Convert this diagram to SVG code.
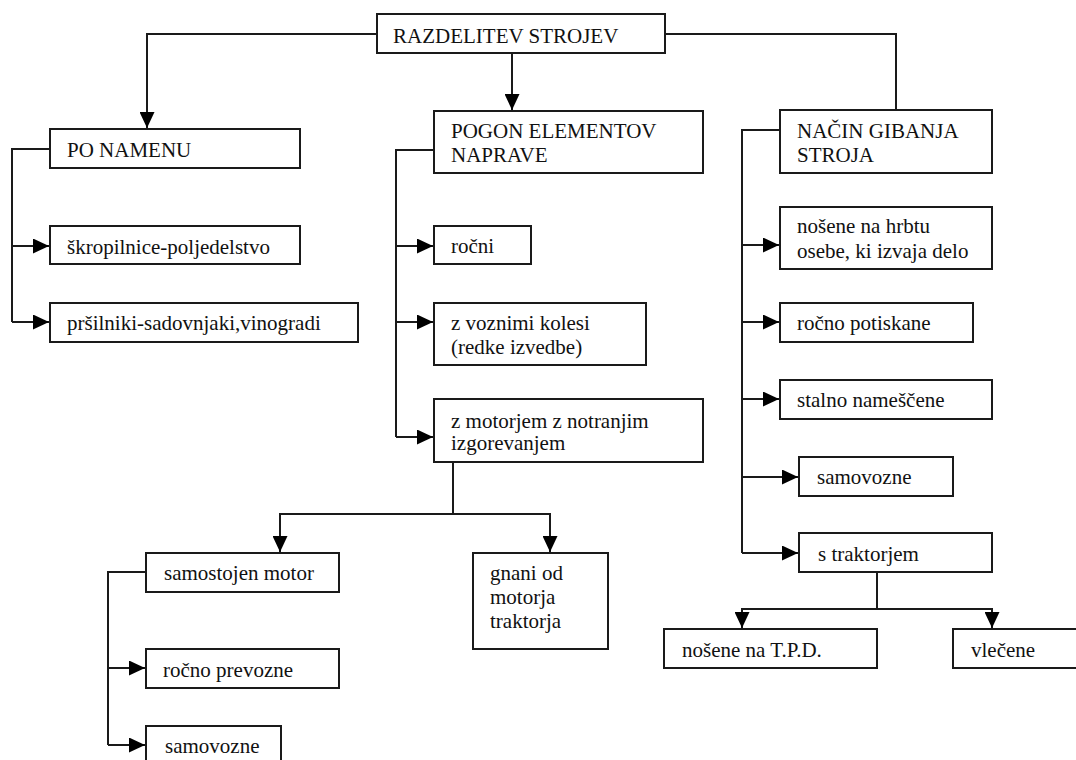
<svg xmlns="http://www.w3.org/2000/svg" width="1076" height="760" viewBox="0 0 1076 760">
<style>
.box{fill:#fff;stroke:#1a1a1a;stroke-width:2}
.t{font-family:"Liberation Serif","Times New Roman",serif;font-size:21px;fill:#111}
.ln{fill:none;stroke:#1a1a1a;stroke-width:2}
</style>
<defs>
<marker id="ah" markerUnits="userSpaceOnUse" markerWidth="17" markerHeight="15" refX="16" refY="7.5" orient="auto">
<path d="M0,0 L16,7.5 L0,15 z" fill="#000"/>
</marker>
</defs>
<rect width="1076" height="760" fill="#fff"/>
<g id="connectors">
<path class="ln" d="M377,34 H147 V128" marker-end="url(#ah)"/>
<path class="ln" d="M512,53 V110" marker-end="url(#ah)"/>
<path class="ln" d="M665,34 H896 V110"/>
<path class="ln" d="M50,149 H12 V322"/>
<path class="ln" d="M12,246 H49" marker-end="url(#ah)"/>
<path class="ln" d="M12,322 H49" marker-end="url(#ah)"/>
<path class="ln" d="M434,150 H396 V437"/>
<path class="ln" d="M396,246 H433" marker-end="url(#ah)"/>
<path class="ln" d="M396,322 H433" marker-end="url(#ah)"/>
<path class="ln" d="M396,437 H433" marker-end="url(#ah)"/>
<path class="ln" d="M453,462 V514"/>
<path class="ln" d="M280,552 V514 H550 V552" />
<path class="ln" d="M280,514 V552" marker-end="url(#ah)"/>
<path class="ln" d="M550,514 V552" marker-end="url(#ah)"/>
<path class="ln" d="M146,572 H108 V745"/>
<path class="ln" d="M108,668 H145" marker-end="url(#ah)"/>
<path class="ln" d="M108,745 H145" marker-end="url(#ah)"/>
<path class="ln" d="M780,130 H742 V553"/>
<path class="ln" d="M742,245 H779" marker-end="url(#ah)"/>
<path class="ln" d="M742,322 H779" marker-end="url(#ah)"/>
<path class="ln" d="M742,399 H779" marker-end="url(#ah)"/>
<path class="ln" d="M742,477 H798" marker-end="url(#ah)"/>
<path class="ln" d="M742,553 H798" marker-end="url(#ah)"/>
<path class="ln" d="M877,572 V609"/>
<path class="ln" d="M742,628 V609 H992 V628"/>
<path class="ln" d="M742,609 V628" marker-end="url(#ah)"/>
<path class="ln" d="M992,609 V628" marker-end="url(#ah)"/>
</g>
<g id="n-root"><rect class="box" x="377" y="14" width="288" height="39"/><text class="t" x="393" y="43">RAZDELITEV STROJEV</text></g>
<g id="n-ponamenu"><rect class="box" x="50" y="129" width="250" height="39"/><text class="t" x="67" y="157">PO NAMENU</text></g>
<g id="n-skropilnice"><rect class="box" x="50" y="226" width="250" height="38"/><text class="t" x="67" y="254">škropilnice-poljedelstvo</text></g>
<g id="n-prsilniki"><rect class="box" x="50" y="303" width="308" height="39"/><text class="t" x="67" y="330">pršilniki-sadovnjaki,vinogradi</text></g>
<g id="n-pogon"><rect class="box" x="434" y="111" width="269" height="62"/><text class="t" x="451" y="138">POGON ELEMENTOV</text><text class="t" x="451" y="162">NAPRAVE</text></g>
<g id="n-rocni"><rect class="box" x="434" y="226" width="97" height="38"/><text class="t" x="451" y="253">ročni</text></g>
<g id="n-voznimi"><rect class="box" x="434" y="303" width="212" height="62"/><text class="t" x="451" y="330">z voznimi kolesi</text><text class="t" x="451" y="354">(redke izvedbe)</text></g>
<g id="n-motorjem"><rect class="box" x="434" y="399" width="269" height="63"/><text class="t" x="451" y="428">z motorjem z notranjim</text><text class="t" x="451" y="450">izgorevanjem</text></g>
<g id="n-samostojen"><rect class="box" x="146" y="553" width="193" height="39"/><text class="t" x="164" y="580">samostojen motor</text></g>
<g id="n-rocnoprevozne"><rect class="box" x="146" y="649" width="193" height="39"/><text class="t" x="163" y="677">ročno prevozne</text></g>
<g id="n-samovozne1"><rect class="box" x="146" y="726" width="135" height="45"/><text class="t" x="165" y="753">samovozne</text></g>
<g id="n-gnani"><rect class="box" x="473" y="553" width="135" height="96"/><text class="t" x="490" y="580">gnani od</text><text class="t" x="490" y="604">motorja</text><text class="t" x="490" y="628">traktorja</text></g>
<g id="n-nacin"><rect class="box" x="780" y="110" width="212" height="63"/><text class="t" x="797" y="138">NAČIN GIBANJA</text><text class="t" x="797" y="162">STROJA</text></g>
<g id="n-nosene"><rect class="box" x="780" y="207" width="212" height="62"/><text class="t" x="797" y="233">nošene na hrbtu</text><text class="t" x="797" y="258">osebe, ki izvaja delo</text></g>
<g id="n-potiskane"><rect class="box" x="780" y="303" width="193" height="39"/><text class="t" x="797" y="330">ročno potiskane</text></g>
<g id="n-stalno"><rect class="box" x="780" y="380" width="212" height="39"/><text class="t" x="797" y="407">stalno nameščene</text></g>
<g id="n-samovozne2"><rect class="box" x="799" y="457" width="154" height="39"/><text class="t" x="817" y="484">samovozne</text></g>
<g id="n-straktorjem"><rect class="box" x="799" y="533" width="193" height="39"/><text class="t" x="818" y="561">s traktorjem</text></g>
<g id="n-tpd"><rect class="box" x="664" y="629" width="213" height="39"/><text class="t" x="682" y="657">nošene na T.P.D.</text></g>
<g id="n-vlecene"><rect class="box" x="953" y="629" width="130" height="39"/><text class="t" x="971" y="657">vlečene</text></g>
</svg>
